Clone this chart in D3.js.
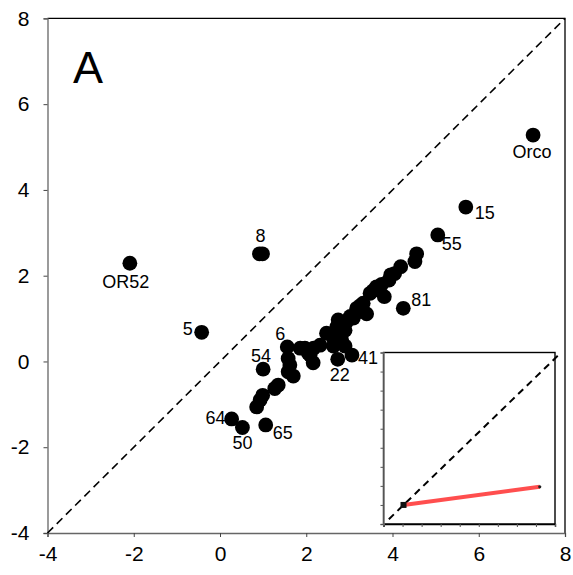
<!DOCTYPE html>
<meta charset="utf-8">
<style>
  body { margin: 0; background: #fff; }
  svg { display: block; }
  text { font-family: "Liberation Sans", Arial, sans-serif; fill: #000; }
</style>
<body>
<svg width="573" height="575"></svg>
<script src="https://d3js.org/d3.v7.min.js"></script>
<script>
// labelled receptors [name, x, y]
const labelled = [
  ["Orco", 7.26, 5.28],
  ["15", 5.70, 3.60],
  ["55", 5.05, 2.95],
  ["81", 4.25, 1.24],
  ["OR52", -2.09, 2.29],
  ["8", 0.915, 2.51],
  ["5", -0.425, 0.68],
  ["6", 1.56, 0.34],
  ["54", 1.00, -0.18],
  ["22", 2.73, 0.05],
  ["41", 3.06, 0.15],
  ["64", 0.27, -1.34],
  ["50", 0.52, -1.54],
  ["65", 1.06, -1.48]
];

// other receptors, no label
const others = [
  [0.985, 2.51],
  [4.56, 2.51], [4.52, 2.33], [4.19, 2.21], [3.96, 2.02], [3.92, 1.90],
  [3.81, 1.51], [3.63, 1.74], [3.48, 1.59], [3.32, 1.36], [3.17, 1.24],
  [3.40, 1.11], [3.09, 1.01], [2.94, 0.93], [2.74, 0.97], [2.71, 0.81],
  [2.90, 0.73], [2.47, 0.66], [2.63, 0.54], [2.82, 0.50], [2.90, 0.36],
  [2.63, 0.36], [2.32, 0.38], [2.17, 0.31], [1.97, 0.31], [2.09, 0.15],
  [2.16, -0.03], [1.58, 0.07], [1.62, -0.08], [1.70, -0.34], [1.58, -0.24],
  [1.35, -0.55], [1.27, -0.63], [0.99, -0.79], [0.93, -0.90], [0.85, -1.06],
  [3.21, 1.16], [3.55, 1.65], [3.02, 1.05], [3.25, 1.30], [2.05, 0.19],
  [1.86, 0.31], [3.75, 1.80], [4.05, 2.05]
];

const ticks = [-4, -2, 0, 2, 4, 6, 8];
const identity = [[-4, -4], [8, 8]];

// inset
const insetTicks = [0, 1, 2, 3, 4, 5, 6, 7, 8, 9];
const insetDiag = [[0.28, 0.25], [9.27, 8.95]];
const insetFit = [[1.05, 1.0], [8.2, 1.95]];

const svg = d3.select("svg");
const plotL = 47.5, plotR = 565, plotT = 18.4, plotB = 533;

const x = d3.scaleLinear().domain([-4, 8]).range([plotL, plotR]);
const y = d3.scaleLinear().domain([-4, 8]).range([plotB, plotT]);

// frame top/right
svg.append("path")
  .attr("d", `M${plotL},${plotT}H${plotR}V${plotB}`)
  .attr("fill", "none").attr("stroke", "#000").attr("stroke-width", 1.3);

const xAxis = svg.append("g")
  .attr("transform", `translate(0,${plotB})`)
  .call(d3.axisBottom(x).tickValues(ticks).tickSize(4).tickPadding(9).tickFormat(d3.format("d")));
const yAxis = svg.append("g")
  .attr("transform", `translate(${plotL},0)`)
  .call(d3.axisLeft(y).tickValues(ticks).tickSize(4).tickPadding(14).tickFormat(d3.format("d")));

[xAxis, yAxis].forEach(g => {
  g.select(".domain").attr("stroke", "#666").attr("stroke-width", 1.3);
  g.selectAll(".tick line").attr("stroke", "#444");
  g.selectAll(".tick text")
    .attr("font-size", 21)
    .attr("font-family", "'Liberation Sans', Arial, sans-serif")
    .attr("fill", "#000")
    .text(d => d < 0 ? "-" + Math.abs(d) : d);
});
xAxis.selectAll(".tick text").attr("dy", "0.72em");

const line = d3.line().x(d => x(d[0])).y(d => y(d[1]));
svg.append("path")
  .attr("d", line(identity))
  .attr("fill", "none").attr("stroke", "#000")
  .attr("stroke-width", 1.6).attr("stroke-dasharray", "8,5");

svg.append("text")
  .attr("x", 73).attr("y", 83)
  .attr("font-size", 45)
  .text("A");

// points
svg.append("g").selectAll("circle")
  .data(others.concat(labelled.map(d => [d[1], d[2]])))
  .join("circle")
  .attr("cx", d => x(d[0]))
  .attr("cy", d => y(d[1]))
  .attr("r", 7.4)
  .attr("fill", "#000");

// label placement: [dx, dy, anchor]
const place = {
  "Orco": [-1, 23, "middle"],
  "15": [9, 12, "start"],
  "55": [4, 15, "start"],
  "81": [8, -2, "start"],
  "OR52": [-4, 25, "middle"],
  "8": [1, -12, "middle"],
  "5": [-9, 3, "end"],
  "6": [-7, -7, "middle"],
  "54": [-2, -7, "middle"],
  "22": [2, 22, "middle"],
  "41": [6, 9, "start"],
  "64": [-6, 5, "end"],
  "50": [0, 21, "middle"],
  "65": [7, 14, "start"]
};

svg.append("g").selectAll("text")
  .data(labelled)
  .join("text")
  .attr("x", d => x(d[1]) + place[d[0]][0])
  .attr("y", d => y(d[2]) + place[d[0]][1])
  .attr("text-anchor", d => place[d[0]][2])
  .attr("font-size", 18)
  .text(d => d[0]);

// inset chart
const ix = d3.scaleLinear().domain([0, 9]).range([383.5, 555]);
const iy = d3.scaleLinear().domain([0, 9]).range([524, 352.5]);
const inset = svg.append("g");

inset.append("rect")
  .attr("x", ix(0)).attr("y", iy(9))
  .attr("width", ix(9) - ix(0)).attr("height", iy(0) - iy(9))
  .attr("fill", "#fff").attr("stroke", "#000").attr("stroke-width", 1.4);

const ixAxis = inset.append("g")
  .attr("transform", `translate(0,${iy(0)})`)
  .call(d3.axisBottom(ix).tickValues(insetTicks).tickSize(3).tickFormat(""));
const iyAxis = inset.append("g")
  .attr("transform", `translate(${ix(0)},0)`)
  .call(d3.axisLeft(iy).tickValues(insetTicks).tickSize(3).tickFormat(""));
ixAxis.select(".domain").attr("stroke", "#000").attr("stroke-width", 1.4);
iyAxis.select(".domain").attr("stroke", "#777").attr("stroke-width", 1.4);
inset.selectAll(".tick line").attr("stroke", "#555");

const iline = d3.line().x(d => ix(d[0])).y(d => iy(d[1]));
inset.append("path")
  .attr("d", iline(insetDiag))
  .attr("fill", "none").attr("stroke", "#000")
  .attr("stroke-width", 2).attr("stroke-dasharray", "7,5");

inset.append("path")
  .attr("d", iline(insetFit))
  .attr("fill", "none").attr("stroke", "#ff3b3b")
  .attr("stroke-opacity", 0.9).attr("stroke-width", 4);

inset.append("rect")
  .attr("x", ix(insetFit[0][0]) - 3).attr("y", iy(insetFit[0][1]) - 3)
  .attr("width", 6).attr("height", 6).attr("fill", "#111");
inset.append("circle")
  .attr("cx", ix(insetFit[1][0])).attr("cy", iy(insetFit[1][1]))
  .attr("r", 1.6).attr("fill", "#222");
</script>
</body>
